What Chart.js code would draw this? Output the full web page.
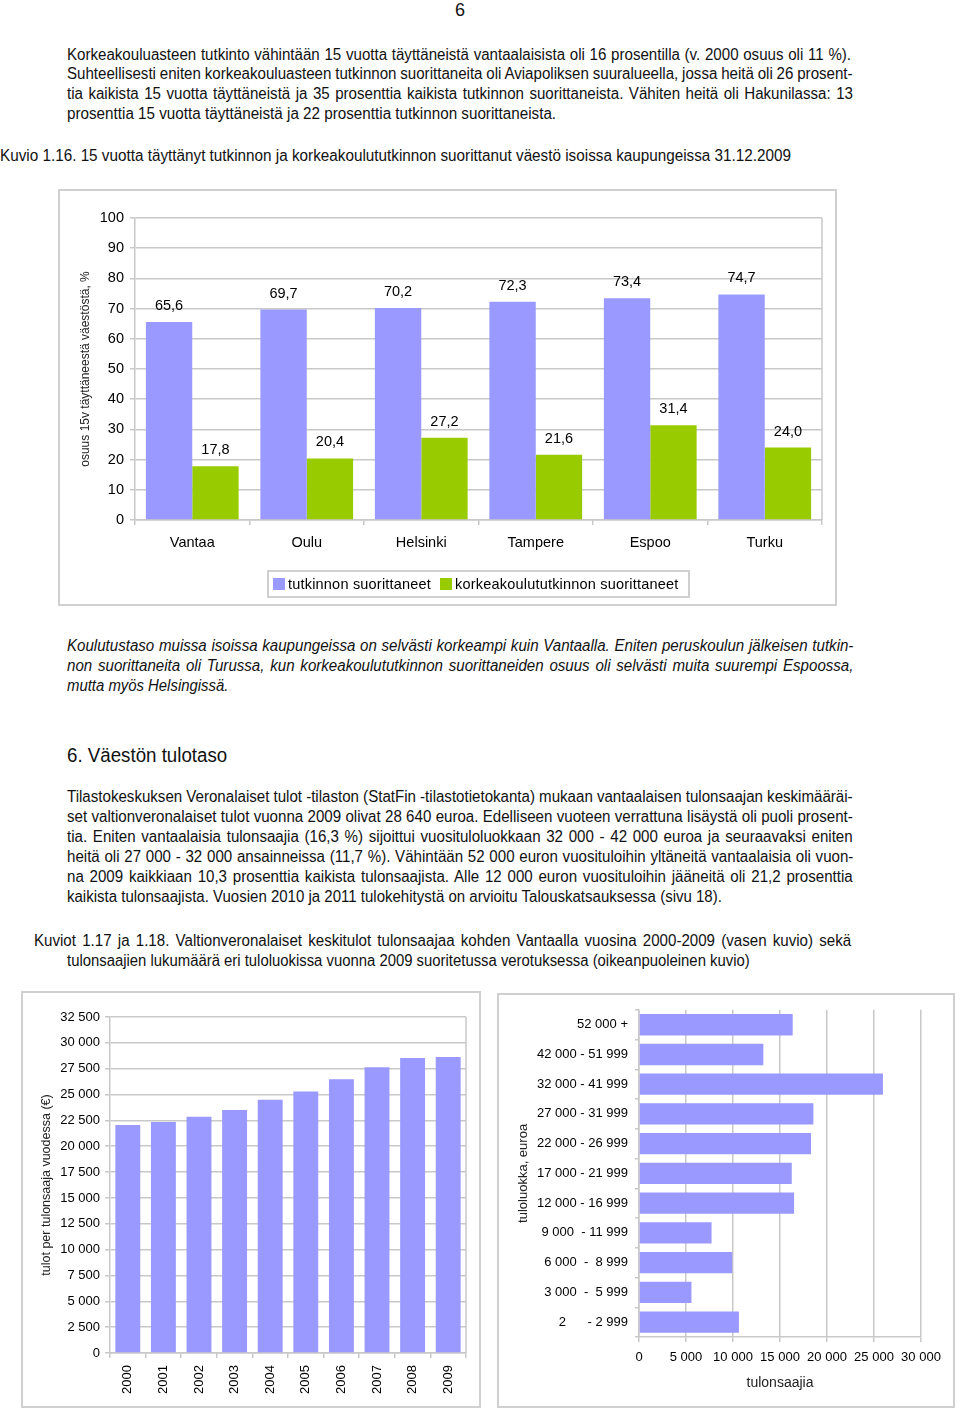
<!DOCTYPE html>
<html><head><meta charset="utf-8">
<script src="https://cdn.jsdelivr.net/npm/chart.js@4.4.0/dist/chart.umd.min.js"></script>
<style>
html,body{margin:0;padding:0;background:#fff;}
body{width:960px;height:1413px;position:relative;overflow:hidden;}
.t{position:absolute;white-space:nowrap;font-family:"Liberation Sans",Arial,sans-serif;font-size:16px;line-height:20px;color:#111;transform-origin:0 50%;}
.t.i{font-style:italic;}
.t.h{font-size:20px;line-height:24px;}
.t.p{font-size:18px;line-height:20px;}
.frame{position:absolute;border:2px solid #d0d0d0;}
canvas{display:block;}
.legend{position:absolute;left:267px;top:570px;width:419px;height:24px;border:2px solid #d0d0d0;font-family:"Liberation Sans",Arial,sans-serif;font-size:14.5px;color:#000;display:flex;align-items:center;letter-spacing:0.2px;}
.legend .sw{display:inline-block;width:12px;height:12px;margin-right:3px;}
</style></head><body>

<div class="frame" style="left:58px;top:189px;width:775px;height:413px;"><canvas id="c1" width="775" height="413"></canvas></div>
<div class="legend"><span class="sw" style="background:#9999ff;margin-left:4px"></span><span>tutkinnon suorittaneet</span><span class="sw" style="background:#99cc00;margin-left:9px"></span><span>korkeakoulututkinnon suorittaneet</span></div>
<div class="frame" style="left:21px;top:991px;width:456px;height:413px;"><canvas id="c2" width="456" height="413"></canvas></div>
<div class="frame" style="left:497px;top:993px;width:454px;height:411px;"><canvas id="c3" width="454" height="411"></canvas></div>

<script>
// ---- data ----
const cities = ['Vantaa', 'Oulu', 'Helsinki', 'Tampere', 'Espoo', 'Turku'];
const tutkinnonSuorittaneet = [65.6, 69.7, 70.2, 72.3, 73.4, 74.7];
const korkeakoulututkinnonSuorittaneet = [17.8, 20.4, 27.2, 21.6, 31.4, 24.0];
const seriesNames = ['tutkinnon suorittaneet', 'korkeakoulututkinnon suorittaneet'];

const years = ['2000', '2001', '2002', '2003', '2004', '2005', '2006', '2007', '2008', '2009'];
const keskitulot = [22050, 22350, 22850, 23500, 24500, 25300, 26480, 27640, 28540, 28640];

const tuloluokat = ['52 000 +', '42 000 - 51 999', '32 000 - 41 999', '27 000 - 31 999', '22 000 - 26 999',
  '17 000 - 21 999', '12 000 - 16 999', '9 000  - 11 999', '6 000  -  8 999', '3 000  -  5 999', '2      - 2 999'];
const tulonsaajia = [16350, 13230, 25950, 18550, 18300, 16250, 16500, 7720, 9920, 5580, 10630];

// ---- page text: [text, x0, x1, yCenter, class, justified] ----
const lines = [
  ['6', 455, null, 10, 'p', false],
  ['Korkeakouluasteen tutkinto vähintään 15 vuotta täyttäneistä vantaalaisista oli 16 prosentilla (v. 2000 osuus oli 11 %).', 67, 851, 55, '', true],
  ['Suhteellisesti eniten korkeakouluasteen tutkinnon suorittaneita oli Aviapoliksen suuralueella, jossa heitä oli 26 prosent-', 67, 853, 74, '', true],
  ['tia kaikista 15 vuotta täyttäneistä ja 35 prosenttia kaikista tutkinnon suorittaneista. Vähiten heitä oli Hakunilassa: 13', 67, 853, 94, '', true],
  ['prosenttia 15 vuotta täyttäneistä ja 22 prosenttia tutkinnon suorittaneista.', 67, 556, 114, '', false],
  ['Kuvio 1.16.  15 vuotta täyttänyt tutkinnon  ja korkeakoulututkinnon suorittanut väestö isoissa kaupungeissa 31.12.2009', 0, 791, 156, '', false],
  ['Koulutustaso muissa isoissa kaupungeissa on selvästi korkeampi kuin Vantaalla. Eniten peruskoulun jälkeisen tutkin-', 67, 853, 646, 'i', true],
  ['non suorittaneita oli Turussa, kun korkeakoulututkinnon suorittaneiden osuus oli selvästi muita suurempi Espoossa,', 67, 853, 666, 'i', true],
  ['mutta myös Helsingissä.', 67, 228, 686, 'i', false],
  ['6. Väestön tulotaso', 67, 227, 755, 'h', false],
  ['Tilastokeskuksen Veronalaiset tulot -tilaston (StatFin -tilastotietokanta) mukaan vantaalaisen tulonsaajan keskimääräi-', 67, 853, 797, '', true],
  ['set valtionveronalaiset tulot vuonna 2009 olivat 28 640 euroa. Edelliseen vuoteen verrattuna lisäystä oli puoli prosent-', 67, 853, 817, '', true],
  ['tia. Eniten vantaalaisia tulonsaajia (16,3 %) sijoittui vuosituloluokkaan 32 000 - 42 000 euroa ja seuraavaksi eniten', 67, 853, 837, '', true],
  ['heitä oli 27 000 - 32 000 ansainneissa (11,7 %). Vähintään 52 000 euron vuosituloihin yltäneitä vantaalaisia oli vuon-', 67, 853, 857, '', true],
  ['na 2009 kaikkiaan 10,3 prosenttia kaikista tulonsaajista. Alle 12 000 euron vuosituloihin jääneitä oli 21,2 prosenttia', 67, 853, 877, '', true],
  ['kaikista tulonsaajista. Vuosien 2010 ja 2011 tulokehitystä on arvioitu Talouskatsauksessa (sivu 18).', 67, 722, 897, '', false],
  ['Kuviot 1.17 ja 1.18.  Valtionveronalaiset keskitulot tulonsaajaa kohden Vantaalla vuosina 2000-2009 (vasen kuvio) sekä', 34, 853, 941, '', true],
  ['tulonsaajien lukumäärä eri tuloluokissa vuonna 2009 suoritetussa verotuksessa (oikeanpuoleinen kuvio)', 67, 750, 961, '', false]
];
const els = lines.map(([txt, x0, x1, y, cls]) => {
  const d = document.createElement('div');
  d.className = 't ' + cls;
  d.textContent = txt;
  d.style.left = x0 + 'px';
  const lh = cls === 'h' ? 24 : 20;
  d.style.top = (y - lh / 2) + 'px';
  document.body.appendChild(d);
  return d;
});
// horizontal compression derived from the non-justified body lines
const ratios = [];
lines.forEach(([txt, x0, x1, y, cls, just], k) => {
  if (x1 !== null && !just && cls === '') ratios.push((x1 - x0) / els[k].offsetWidth);
});
const R = ratios.reduce((a, b) => a + b, 0) / ratios.length;
lines.forEach(([txt, x0, x1, y, cls, just], k) => {
  if (x1 === null) return;
  const d = els[k];
  const w = d.offsetWidth;
  if (just) {
    const n = (txt.match(/ /g) || []).length;
    d.style.wordSpacing = ((x1 - x0) / R - w) / n + 'px';
    d.style.transform = 'scaleX(' + R + ')';
  } else {
    d.style.transform = 'scaleX(' + ((x1 - x0) / w) + ')';
  }
});

// ---- charts ----
const GRID = '#c8c8c8';
const FONT = '"Liberation Sans", Arial, sans-serif';
Chart.defaults.font.family = FONT;
Chart.defaults.color = '#000';
const fmt = v => String(v).replace(/\B(?=(\d{3})+(?!\d))/g, ' ');

const rightBorder = {
  id: 'rightBorder',
  beforeDatasetsDraw(c) {
    const {ctx, chartArea: {right, top, bottom}} = c;
    ctx.save(); ctx.strokeStyle = GRID; ctx.lineWidth = 1.5;
    ctx.beginPath(); ctx.moveTo(right, top); ctx.lineTo(right, bottom); ctx.stroke(); ctx.restore();
  }
};
const valueLabels = {
  id: 'valueLabels',
  afterDatasetsDraw(c) {
    const ctx = c.ctx;
    ctx.save();
    ctx.font = '14.5px ' + FONT; ctx.fillStyle = '#000';
    ctx.textAlign = 'center'; ctx.textBaseline = 'middle';
    c.data.datasets.forEach((ds, i) => {
      c.getDatasetMeta(i).data.forEach((bar, j) => {
        ctx.fillText(ds.data[j].toFixed(1).replace('.', ','), bar.x, bar.y - 16);
      });
    });
    ctx.restore();
  }
};
const base = {responsive: false, animation: false, devicePixelRatio: 1,
  plugins: {legend: {display: false}, tooltip: {enabled: false}}};

new Chart(document.getElementById('c1'), {
  type: 'bar',
  data: {labels: cities, datasets: [
    {label: seriesNames[0], data: tutkinnonSuorittaneet, backgroundColor: '#9999ff'},
    {label: seriesNames[1], data: korkeakoulututkinnonSuorittaneet, backgroundColor: '#99cc00'}]},
  options: Object.assign({}, base, {
    datasets: {bar: {categoryPercentage: 0.81, barPercentage: 1}},
    layout: {padding: {left: 0, right: 13, top: 27, bottom: 44}},
    scales: {
      x: {grid: {drawOnChartArea: false, tickLength: 5, color: GRID, lineWidth: 1.5},
          border: {color: GRID, width: 1.5},
          ticks: {font: {size: 14.5}, padding: 9, color: '#000'},
          afterFit(s) { s.height = 40; }},
      y: {min: 0, max: 100,
          ticks: {stepSize: 10, font: {size: 14.5}, padding: 6, color: '#000'},
          grid: {color: GRID, lineWidth: 1.5, tickLength: 5},
          border: {color: GRID, width: 1.5},
          title: {display: true, text: 'osuus 15v täyttäneestä väestöstä, %', font: {size: 12}, padding: {top: 18, bottom: 0}, color: '#222'},
          afterFit(s) { s.width = 75; }}
    }
  }),
  plugins: [valueLabels, rightBorder]
});

new Chart(document.getElementById('c2'), {
  type: 'bar',
  data: {labels: years, datasets: [{data: keskitulot, backgroundColor: '#9999ff'}]},
  options: Object.assign({}, base, {
    datasets: {bar: {categoryPercentage: 0.7, barPercentage: 1}},
    layout: {padding: {left: 0, right: 13, top: 24, bottom: 0}},
    scales: {
      x: {grid: {drawOnChartArea: false, tickLength: 5, color: GRID, lineWidth: 1.5},
          border: {color: GRID, width: 1.5},
          ticks: {font: {size: 13}, padding: 7, minRotation: 90, maxRotation: 90, autoSkip: false, color: '#000'},
          afterFit(s) { s.height = 53; }},
      y: {min: 0, max: 32500,
          ticks: {stepSize: 2500, callback: fmt, font: {size: 13}, padding: 5, color: '#000'},
          grid: {color: GRID, lineWidth: 1.5, tickLength: 5},
          border: {color: GRID, width: 1.5},
          title: {display: true, text: 'tulot per tulonsaaja vuodessa (€)', font: {size: 12.5}, padding: {top: 16.5, bottom: 0}, color: '#222'},
          afterFit(s) { s.width = 87; }}
    }
  }),
  plugins: [rightBorder]
});

new Chart(document.getElementById('c3'), {
  type: 'bar',
  data: {labels: tuloluokat, datasets: [{data: tulonsaajia, backgroundColor: '#9999ff'}]},
  options: Object.assign({}, base, {
    indexAxis: 'y',
    datasets: {bar: {categoryPercentage: 0.72, barPercentage: 1}},
    layout: {padding: {left: 0, right: 32, top: 12, bottom: 0}},
    scales: {
      x: {min: 0, max: 30000,
          ticks: {stepSize: 5000, callback: fmt, font: {size: 13}, padding: 8, color: '#000'},
          grid: {color: GRID, lineWidth: 1.5, tickLength: 5},
          border: {color: GRID, width: 1.5},
          title: {display: true, text: 'tulonsaajia', font: {size: 14}, padding: {top: 0, bottom: 14.6}, color: '#222'},
          afterFit(s) { s.height = 69; }},
      y: {grid: {drawOnChartArea: false, tickLength: 4, color: GRID, lineWidth: 1.5},
          border: {color: GRID, width: 1.5},
          ticks: {font: {size: 13}, padding: 7, autoSkip: false, color: '#000'},
          title: {display: true, text: 'tuloluokka, euroa', font: {size: 13}, padding: {top: 16.2, bottom: 0}, color: '#222'},
          afterFit(s) { s.width = 140; }}
    }
  })
});
</script>
</body></html>
